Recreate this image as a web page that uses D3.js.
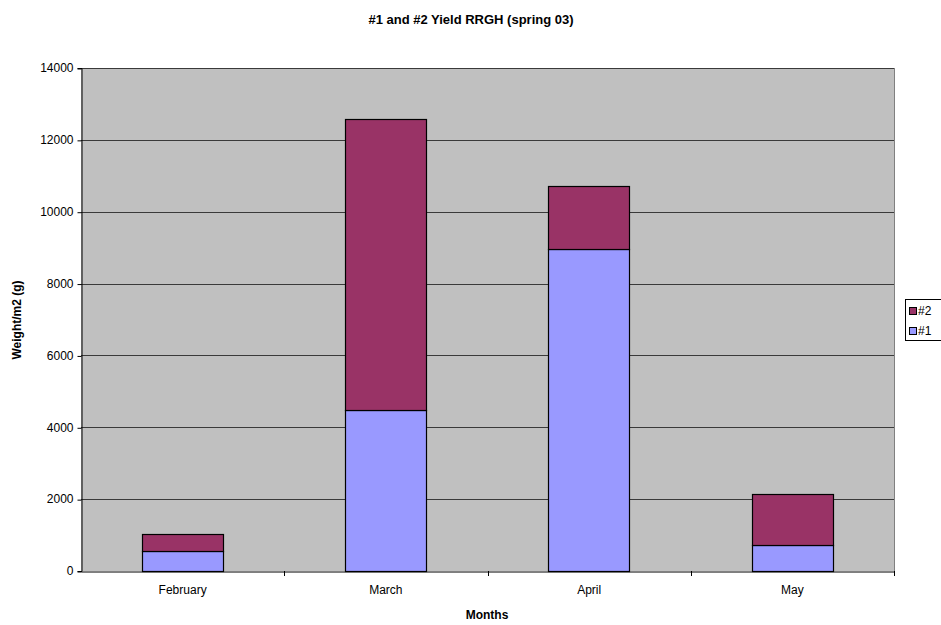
<!DOCTYPE html>
<html><head><meta charset="utf-8">
<script src="https://cdn.jsdelivr.net/npm/d3@7"></script>
<style>body{margin:0;background:#fff}svg{display:block}text{font-family:"Liberation Sans",Arial,sans-serif}</style>
</head><body>
<svg id="c" width="941" height="625"></svg>
<script>
const months = ["February","March","April","May"];
const series1 = [557, 4476, 8953, 724];      // #1
const series2 = [485, 8114, 1771, 1432];     // #2 (stacked on #1)
const yTicks = [0,2000,4000,6000,8000,10000,12000,14000];
const seriesNames = ["#1","#2"];
const colors = {"#1":"#9999FF","#2":"#993366"};

const svg = d3.select("#c");
const L=81, R=894, T=68, B=571;
const x = d3.scaleBand().domain(months).range([L,R]).paddingInner(0.6).paddingOuter(0.3);
const xb = d3.scaleBand().domain(months).range([L,R]);
const y = d3.scaleLinear().domain([0,14000]).range([B,T]);

const data = months.map((m,i)=>({month:m,"#1":series1[i],"#2":series2[i]}));
const stack = d3.stack().keys(seriesNames)(data);

svg.append("rect").attr("x",L).attr("y",T).attr("width",R-L).attr("height",B-T).attr("fill","#C0C0C0");
// gridlines
svg.append("g").selectAll("line").data(yTicks.filter(d=>d>0)).join("line")
  .attr("x1",L).attr("x2",R).attr("y1",d=>Math.round(y(d))+0.5).attr("y2",d=>Math.round(y(d))+0.5)
  .attr("stroke","#3a3a3a").attr("stroke-width",1);
// right border
svg.append("line").attr("x1",R+0.5).attr("x2",R+0.5).attr("y1",T).attr("y2",B).attr("stroke","#808080");

// bars
svg.append("g").selectAll("g").data(stack).join("g")
  .attr("fill",d=>colors[d.key])
  .selectAll("rect").data(d=>d).join("rect")
  .attr("x",d=>Math.round(x(d.data.month))+0.5)
  .attr("y",d=>Math.round(y(d[1]))+0.5)
  .attr("width",Math.round(x.bandwidth()))
  .attr("height",d=>Math.round(y(d[0]))-Math.round(y(d[1])))
  .attr("stroke","#000").attr("stroke-width",1.2);

// y axis
const ya = svg.append("g").attr("transform",`translate(${L+0.5},0)`)
  .call(d3.axisLeft(y).tickValues(yTicks).tickSize(4).tickPadding(4).tickFormat(d3.format("d")));
ya.select(".domain").attr("stroke","#000");
ya.selectAll(".tick line").attr("stroke","#000").attr("transform","translate(0,0.5)");
ya.selectAll(".tick text").attr("font-size","12px").attr("fill","#000").attr("font-family","Liberation Sans, Arial, sans-serif");

// x axis
const xa = svg.append("g").attr("transform",`translate(0,${B+0.5})`)
  .call(d3.axisBottom(xb).tickSize(0).tickPadding(14));
xa.select(".domain").attr("stroke","#000");
xa.selectAll(".tick text").attr("font-size","12px").attr("fill","#000").attr("font-family","Liberation Sans, Arial, sans-serif");
// boundary ticks
const bounds = months.map(m=>xb(m)).concat([R]).slice(1);
svg.append("g").selectAll("line").data(bounds).join("line")
  .attr("x1",d=>Math.round(d)+0.5).attr("x2",d=>Math.round(d)+0.5).attr("y1",B).attr("y2",B+5).attr("stroke","#000");

// titles
svg.append("text").attr("x",471).attr("y",24).attr("text-anchor","middle").attr("font-weight","bold").attr("font-size","13px").text("#1 and #2 Yield RRGH (spring 03)");
svg.append("text").attr("x",487).attr("y",619).attr("text-anchor","middle").attr("font-weight","bold").attr("font-size","12px").text("Months");
svg.append("text").attr("transform","translate(21,320) rotate(-90)").attr("text-anchor","middle").attr("font-weight","bold").attr("font-size","12px").text("Weight/m2 (g)");

// legend
const lg = svg.append("g");
lg.append("rect").attr("x",905.5).attr("y",299.5).attr("width",40).attr("height",41).attr("fill","#fff").attr("stroke","#000");
const legItems = ["#2","#1"];
lg.selectAll("g").data(legItems).join("g").each(function(d,i){
  const g=d3.select(this);
  const yy = 307 + i*20;
  g.append("rect").attr("x",909.5).attr("y",yy+0.5).attr("width",7).attr("height",7).attr("fill",colors[d]).attr("stroke","#000");
  g.append("text").attr("x",918).attr("y",yy+8).attr("font-size","12px").text(d);
});
</script>
</body></html>
